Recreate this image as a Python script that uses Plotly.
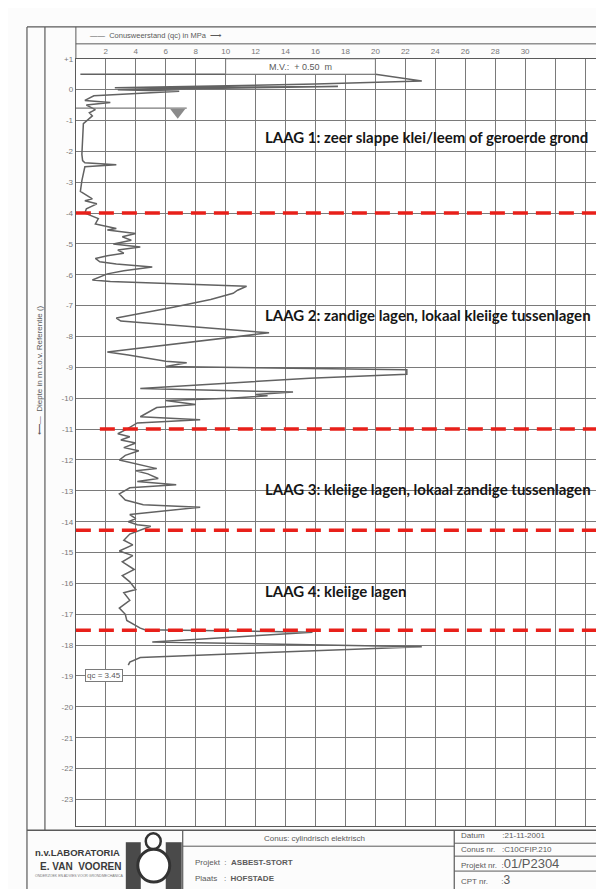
import plotly.graph_objects as go

# cone resistance qc (MPa) against depth (m t.o.v. referentie)
qc = [0.3, 20.0, 23.1, 16.0, 2.6, 17.5, 2.8, 6.9, 1.2, 0.6, 2.3, 0.7, 1.3, 0.9, 1.1, 0.5,
      0.45, 0.4, 0.45, 0.6, 2.7, 0.6, 0.4, 0.3, 1.1, 0.6, 1.4, 0.7, 0.6, 1.5, 1.3, 2.7,
      2.1, 4.0, 3.1, 3.7, 2.5, 4.3, 2.8, 3.2, 2.1, 1.3, 1.6, 2.7, 5.1, 3.2, 2.1, 1.1,
      2.3, 11.4, 10.8, 10.5, 9.0, 7.1, 6.5, 2.7, 3.0, 12.9, 2.1, 3.5, 6.0, 7.4, 6.0,
      22.1, 22.1, 15.6, 4.3, 14.5, 12.0, 12.8, 10.3, 6.0, 8.0, 5.4, 4.3, 8.3, 4.1, 3.4,
      2.8, 3.6, 3.0, 4.0, 3.2, 4.2, 3.3, 2.9, 3.8, 4.5, 5.4, 4.0, 4.8, 5.5, 4.1, 6.7,
      3.6, 2.9, 3.3, 4.5, 8.3, 3.6, 4.0, 3.5, 4.1, 5.0, 3.6, 3.2, 3.8, 2.9, 3.8, 3.1,
      3.9, 3.1, 3.6, 4.0, 3.2, 3.6, 2.9, 3.3, 3.4, 4.3, 4.6, 15.8, 5.1, 23.1, 4.3, 3.6,
      3.5]
depth = [0.5, 0.5, 0.28, 0.18, 0.06, 0.1, 0.0, -0.05, -0.2, -0.35, -0.42, -0.5, -0.65,
         -0.75, -0.85, -1.1, -1.6, -2.1, -2.3, -2.37, -2.43, -2.5, -2.95, -3.3, -3.54,
         -3.6, -3.7, -3.86, -4.0, -4.18, -4.35, -4.5, -4.55, -4.66, -4.77, -4.88, -5.0,
         -5.1, -5.2, -5.3, -5.38, -5.47, -5.58, -5.65, -5.75, -5.87, -5.97, -6.17, -6.22,
         -6.37, -6.5, -6.6, -6.8, -7.0, -7.05, -7.4, -7.5, -7.88, -8.5, -8.6, -8.8, -8.85,
         -8.97, -9.08, -9.22, -9.35, -9.68, -9.8, -9.88, -9.92, -10.0, -10.07, -10.2,
         -10.3, -10.6, -10.7, -10.8, -11.0, -11.15, -11.25, -11.35, -11.45, -11.6, -11.7,
         -11.85, -12.0, -12.1, -12.2, -12.28, -12.35, -12.45, -12.6, -12.7, -12.8, -12.9,
         -13.1, -13.3, -13.45, -13.53, -13.77, -13.9, -14.0, -14.1, -14.15, -14.4, -14.6,
         -14.75, -14.95, -15.1, -15.3, -15.55, -15.75, -15.95, -16.2, -16.3, -16.55,
         -16.8, -17.0, -17.2, -17.45, -17.5, -17.58, -17.9, -18.05, -18.4, -18.55, -18.65]

layer_bounds = [-4.0, -11.0, -14.28, -17.52]
layer_bound_start = [0, 1.6, 0, 0]
layer_labels = ["LAAG 1: zeer slappe klei/leem of geroerde grond",
                "LAAG 2: zandige lagen, lokaal kleiige tussenlagen",
                "LAAG 3: kleiige lagen, lokaal zandige tussenlagen",
                "LAAG 4: kleiige lagen"]
layer_label_depth = [-1.55, -7.3, -12.93, -16.24]

x_ticks = list(range(0, 36, 2))
x_ticktext = ["" if (v == 0 or v > 30) else str(v) for v in x_ticks]
y_ticks = list(range(1, -24, -1))
y_ticktext = ["+1" if v == 1 else str(v) for v in y_ticks]

mv_level = 0.5
gw_level = -0.6
qc_end = 3.45

# page body has an 8px margin, so the figure starts at (8, 8) of the window
OFF = 8
W, H = 604 - OFF, 889 - OFF


def fx(px):
    return (px - OFF) / W


def fy(py):
    return 1 - (py - OFF) / H


GRID = "#7a7a7a"
INK = "#5a5a5a"

fig = go.Figure()
fig.add_trace(go.Scatter(x=qc, y=depth, mode="lines",
                         line=dict(color="#626262", width=1.5), hoverinfo="skip"))

shapes = []
# white box for the M.V. label (covers grid)
shapes.append(dict(type="rect", xref="x", yref="y", x0=10, x1=20, y0=mv_level, y1=1,
                   fillcolor="white", line=dict(color=GRID, width=1), layer="above"))
# groundwater line
shapes.append(dict(type="line", xref="x", yref="y", x0=0, x1=7.4, y0=gw_level, y1=gw_level,
                   line=dict(color=GRID, width=1.2)))
# layer boundaries
for d, s in zip(layer_bounds, layer_bound_start):
    shapes.append(dict(type="line", xref="x", yref="y", x0=s, x1=36, y0=d, y1=d,
                       line=dict(color="#e8201a", width=3.5, dash="15px,8px"), layer="above"))


# frame pieces (window pixel coords)
def hline(py, x0, x1, w=1.2, c=INK):
    shapes.append(dict(type="line", xref="paper", yref="paper", x0=fx(x0), x1=fx(x1),
                       y0=fy(py), y1=fy(py), line=dict(color=c, width=w)))


def vline(px, y0, y1, w=1.2, c=INK):
    shapes.append(dict(type="line", xref="paper", yref="paper", x0=fx(px), x1=fx(px),
                       y0=fy(y0), y1=fy(y1), line=dict(color=c, width=w)))


hline(23, 27, 604)
vline(27, 23, 889)
vline(45, 23, 830)
hline(40, 76, 604, 1)
vline(76, 23, 55, 1)
hline(830, 27, 604, 1.5)
vline(183, 830, 889)
vline(455, 830, 889)
hline(846, 183, 455, 1)
hline(843, 455, 604, 1)
hline(856, 455, 604, 1)
hline(871, 455, 604, 1)

# logo
shapes.append(dict(type="rect", xref="paper", yref="paper", x0=fx(126), x1=fx(141),
                   y0=fy(889), y1=fy(842), fillcolor="#4a4a4a", line=dict(width=0)))
shapes.append(dict(type="rect", xref="paper", yref="paper", x0=fx(166), x1=fx(182),
                   y0=fy(889), y1=fy(842), fillcolor="#4a4a4a", line=dict(width=0)))
shapes.append(dict(type="circle", xref="paper", yref="paper", x0=fx(146), x1=fx(161),
                   y0=fy(849), y1=fy(833), fillcolor="white", line=dict(color="#333", width=2.5)))
shapes.append(dict(type="circle", xref="paper", yref="paper", x0=fx(138), x1=fx(170),
                   y0=fy(882), y1=fy(849), fillcolor="white", line=dict(color="#333", width=3)))

fig.add_trace(go.Scatter(x=[6.8], y=[gw_level - 0.13], mode="markers",
                         marker=dict(symbol="triangle-down", size=13, color="#8a8a8a"),
                         hoverinfo="skip"))

ann = []
for txt, d in zip(layer_labels, layer_label_depth):
    ann.append(dict(x=12.5, y=d, xref="x", yref="y", text="<b>%s</b>" % txt,
                    showarrow=False, xanchor="left", yanchor="middle",
                    font=dict(family="Lato", size=15, color="#161616")))
ann.append(dict(x=15, y=0.75, xref="x", yref="y", text="M.V.:  + 0.50  m", showarrow=False,
                font=dict(family="Liberation Sans", size=9, color=INK)))
ann.append(dict(x=0.6, y=-18.97, xref="x", yref="y", text="qc = %.2f" % qc_end,
                showarrow=False, xanchor="left", bordercolor=GRID, borderwidth=1,
                bgcolor="white", borderpad=1,
                font=dict(family="Liberation Sans", size=8, color=INK)))


def label(px, py, text, size=8, anchor="left", color=INK, angle=0):
    ann.append(dict(x=fx(px), y=fy(py), xref="paper", yref="paper", text=text,
                    showarrow=False, xanchor=anchor, yanchor="middle", textangle=angle,
                    font=dict(family="Liberation Sans", size=size, color=color)))


label(88, 32, "——  Conusweerstand (qc) in MPa  ⟶", 7.5)
label(39, 368, "⟵—  Diepte in m t.o.v. Referentie ()", anchor="center", angle=-90)
label(33, 852, "<b>n.v.LABORATORIA</b>", 9.5, color="#3a3a3a")
label(38, 866, "<b>E. VAN  VOOREN</b>", 10, color="#3a3a3a")
label(33, 876, "ONDERZOEK EN ADVIES VOOR GRONDMECHANICA", 3.5, color="#777")
label(315, 838, "Conus: cylindrisch elektrisch", 8, anchor="center")
label(193, 862, "Projekt  :  <b>ASBEST-STORT</b>", 8)
label(193, 878, "Plaats   :  <b>HOFSTADE</b>", 8)
label(460, 835, "Datum        :21-11-2001", 8)
label(460, 849, "Conus nr.   :C10CFIP.210", 8)
label(460, 863, "Projekt nr.  :<span style='font-size:13px'>01/P2304</span>", 8)
label(460, 880, "CPT nr.      :<span style='font-size:12px'>3</span>", 8)

fig.update_layout(
    width=W, height=H, margin=dict(l=0, r=0, t=0, b=0),
    paper_bgcolor="#fcfcfc", plot_bgcolor="white", showlegend=False,
    shapes=shapes, annotations=ann,
    xaxis=dict(domain=[fx(76), 1], range=[0, 35.2], side="top", tickvals=x_ticks,
               ticktext=x_ticktext, showgrid=True, gridcolor=GRID, gridwidth=1.2,
               zeroline=False, showline=True, linecolor=INK, linewidth=1.4, mirror=True,
               ticks="", tickfont=dict(family="Liberation Sans", size=8, color="#777")),
    yaxis=dict(domain=[fy(826), fy(55)], range=[-23.87, 1.0], tickvals=y_ticks,
               ticktext=y_ticktext, showgrid=True, gridcolor=GRID, gridwidth=1.2,
               zeroline=False, showline=True, linecolor=INK, linewidth=1.4, mirror=True,
               ticks="", tickfont=dict(family="Liberation Sans", size=8, color="#777")),
)

fig.write_html("out.html")
